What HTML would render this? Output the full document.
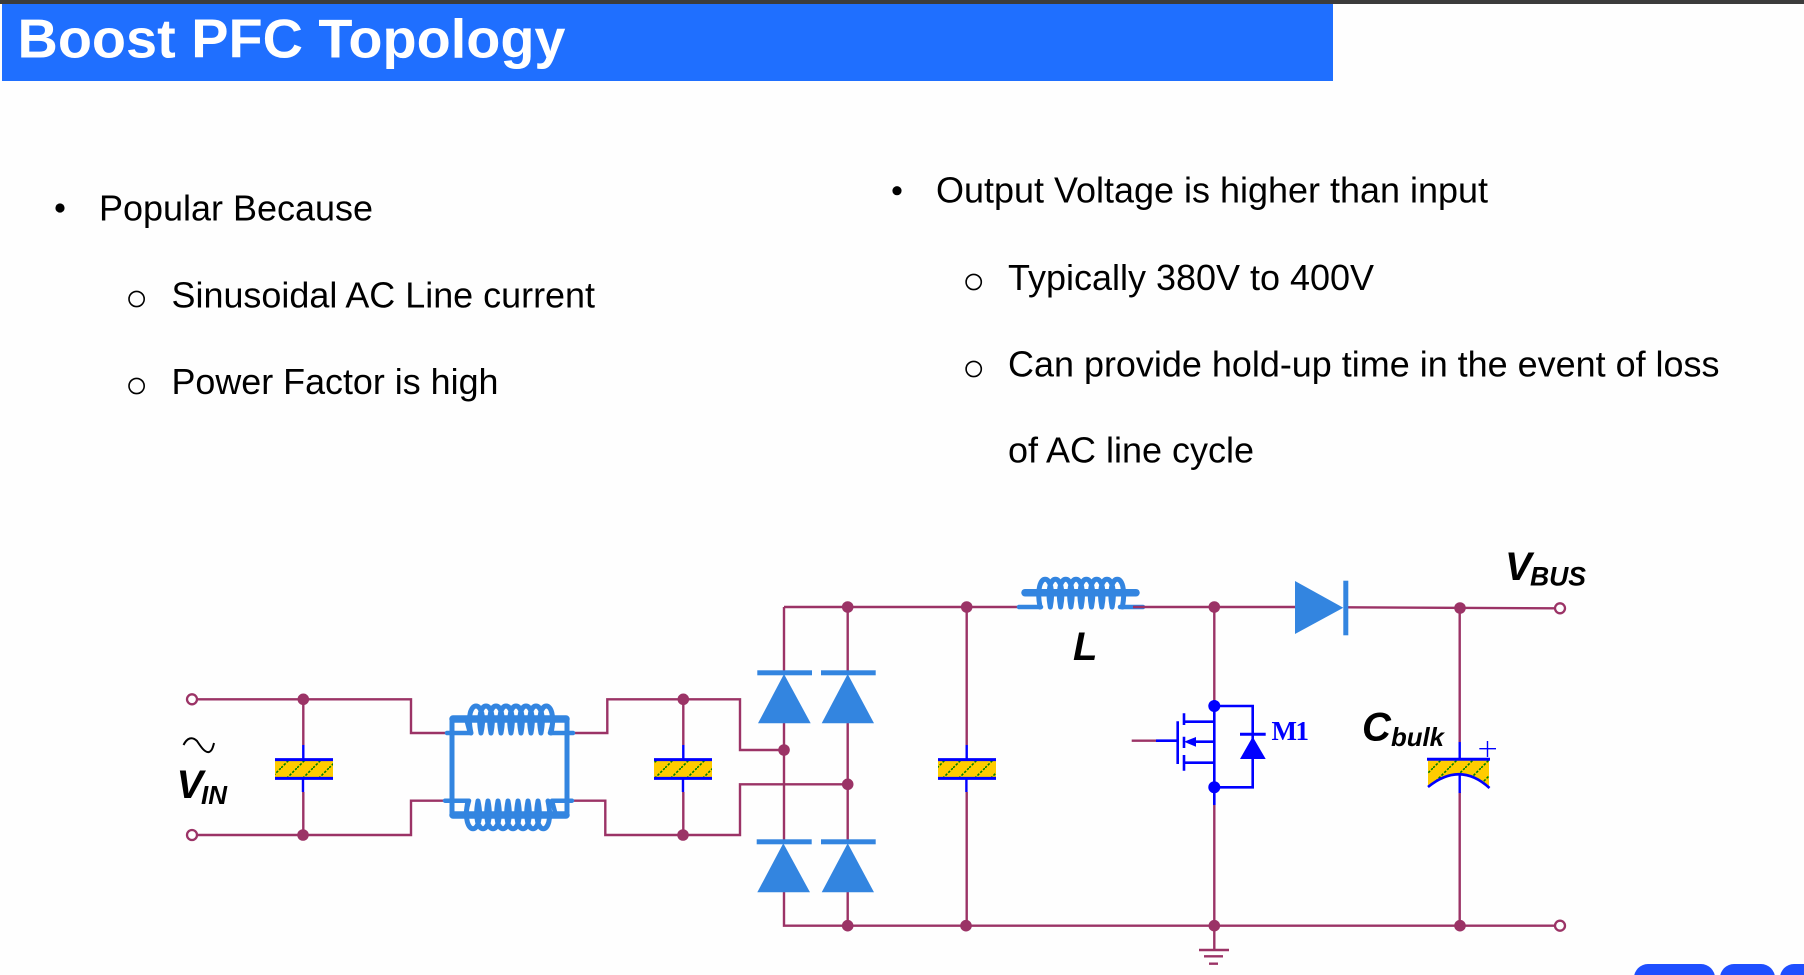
<!DOCTYPE html>
<html>
<head>
<meta charset="utf-8">
<title>Boost PFC Topology</title>
<style>
html,body{margin:0;padding:0;background:#fefefe;width:1804px;height:975px;overflow:hidden}
svg{display:block}
text{font-family:"Liberation Sans",sans-serif}
.b{font-size:36px;fill:#000}
.lab{font-weight:bold;font-style:italic;fill:#000}
.w{fill:none;stroke:#9b3366;stroke-width:2.4}
.bl{fill:none;stroke:#0000ff;stroke-width:2.6}
.d{fill:#3385e0;stroke:none}
.c{fill:none;stroke:#3385e0;stroke-linecap:round;stroke-linejoin:round}
</style>
</head>
<body>
<svg width="1804" height="975" viewBox="0 0 1804 975" xmlns="http://www.w3.org/2000/svg">
<defs>
<pattern id="h" patternUnits="userSpaceOnUse" width="16" height="16" patternTransform="translate(9,0)">
<rect width="16" height="16" fill="#ffcc00"/>
<path d="M0,16L16,0" stroke="#008000" stroke-width="1.6" stroke-dasharray="2.5 1.5"/>
</pattern>
</defs>
<rect width="1804" height="975" fill="#fefefe"/>
<rect x="0" y="0" width="1804" height="4" fill="#3c3c3c"/>
<rect x="2" y="4" width="1331" height="77" fill="#1f6fff"/>
<text x="17.5" y="57.3" font-size="55" font-weight="bold" fill="#fff" textLength="548" lengthAdjust="spacingAndGlyphs">Boost PFC Topology</text>

<circle cx="60" cy="208" r="4.6" fill="#000"/>
<text class="b" x="99" y="220.5" textLength="274" lengthAdjust="spacingAndGlyphs">Popular Because</text>
<circle cx="136.6" cy="299" r="7.6" fill="none" stroke="#000" stroke-width="1.6"/>
<text class="b" x="171.5" y="307.5" textLength="423.5" lengthAdjust="spacingAndGlyphs">Sinusoidal AC Line current</text>
<circle cx="136.6" cy="386" r="7.6" fill="none" stroke="#000" stroke-width="1.6"/>
<text class="b" x="171.5" y="394" textLength="327" lengthAdjust="spacingAndGlyphs">Power Factor is high</text>

<circle cx="897" cy="190.7" r="4.6" fill="#000"/>
<text class="b" x="936" y="202.7" textLength="552" lengthAdjust="spacingAndGlyphs">Output Voltage is higher than input</text>
<circle cx="973.7" cy="282" r="7.6" fill="none" stroke="#000" stroke-width="1.6"/>
<text class="b" x="1008" y="290" textLength="366" lengthAdjust="spacingAndGlyphs">Typically 380V to 400V</text>
<circle cx="973.7" cy="369" r="7.6" fill="none" stroke="#000" stroke-width="1.6"/>
<text class="b" x="1008" y="376.5" textLength="711.5" lengthAdjust="spacingAndGlyphs">Can provide hold-up time in the event of loss</text>
<text class="b" x="1008" y="462.7" textLength="246" lengthAdjust="spacingAndGlyphs">of AC line cycle</text>

<!-- wires -->
<path class="w" d="M197,699.3H411V733H447"/>
<path class="w" d="M197,835H411V800.7H445"/>
<path class="w" d="M303.3,699.3V745M303.3,792V835"/>
<path class="w" d="M572,733H607.3V699.3H740V750H784"/>
<path class="w" d="M570,800.7H605.3V835H740V784.3H847.7"/>
<path class="w" d="M683.3,699.3V745M683.3,792V835"/>
<path class="w" d="M784,892V925.7H1555"/>
<path class="w" d="M784,607V674M784,723V843"/>
<path class="w" d="M847.7,607V674M847.7,723V843M847.7,892V925.7"/>
<path class="w" d="M784,607H1020"/>
<path class="w" d="M966.7,607V745M966.7,792V925.7"/>
<path class="w" d="M1214.3,607V700M1214.3,805V950"/>
<path class="w" d="M1199,950H1229M1204,956.3H1223M1209,963.7H1218"/>
<path class="w" d="M1348,607.3L1555,608.3"/>
<path class="w" d="M1459.7,608V742M1459.7,792V925.7"/>

<!-- choke -->
<g class="c">
<path stroke-width="7.5" d="M453,719H566M453,815H566"/>
<path stroke-width="5" fill="none" d="M452,719V815M567,719V815"/>
<path stroke-width="4.5" fill="none" d="M447,733H470L467,722M573,733H550L553,722M445,800.7H469L466,812M572,800.7H552L555,812"/>
<path stroke-width="5" fill="none" d="M471,733c-8,-36 18,-36 10,0c-7,-36 17,-36 10,0c-7,-36 17,-36 10,0c-7,-36 17,-36 10,0c-7,-36 17,-36 10,0c-7,-36 17,-36 10,0c-7,-36 17,-36 10,0c-7,-36 18,-36 10,0"/>
<path stroke-width="5" fill="none" d="M468,801c-8,37 18,37 10,0c-7,37 17,37 10,0c-7,37 17,37 10,0c-7,37 17,37 10,0c-7,37 17,37 10,0c-7,37 17,37 10,0c-7,37 17,37 10,0c-7,37 18,37 10,0"/>
</g>

<!-- main inductor -->
<g class="c">
<path stroke-width="7.5" d="M1025,592.7H1136"/>
<path stroke-width="4.5" fill="none" d="M1019,607H1041M1120,607H1143"/>
<path stroke-width="5" fill="none" d="M1040,607c-7,-37 17.3,-37 10.3,0c-7,-37 17.3,-37 10.3,0c-7,-37 17.3,-37 10.3,0c-7,-37 17.3,-37 10.3,0c-7,-37 17.3,-37 10.3,0c-7,-37 17.3,-37 10.3,0c-7,-37 17.3,-37 10.3,0c-7,-37 17.3,-37 10.3,0"/>
</g>
<path class="w" d="M1133,607H1214"/>
<path class="w" d="M1214,607H1295"/>

<!-- bridge diodes -->
<path class="d" d="M784,674L810.7,723.3H758Z"/>
<path class="d" d="M847.7,674L874,723.3H821.7Z"/>
<path class="d" d="M783.3,843.3L810,892.3H757.3Z"/>
<path class="d" d="M847.7,843.3L874,892.3H821.7Z"/>
<g class="d">
<rect x="757.3" y="670.3" width="54.7" height="5"/>
<rect x="821" y="670.3" width="54.7" height="5"/>
<rect x="756.7" y="839.3" width="55" height="5"/>
<rect x="821" y="839.3" width="54.7" height="5"/>
</g>

<!-- output diode -->
<path class="d" d="M1295,581L1343.3,607.7L1295,634Z"/>
<rect class="d" x="1343.3" y="580.7" width="5" height="54.6"/>

<!-- capacitors -->
<g>
<rect x="275" y="761" width="58" height="16" fill="url(#h)"/>
<rect x="654" y="761" width="58" height="16" fill="url(#h)"/>
<rect x="938" y="761" width="58" height="16" fill="url(#h)"/>
<path d="M275,759.6H333M275,778.4H333M654,759.6H712M654,778.4H712M938,759.6H996M938,778.4H996" stroke="#0000ff" stroke-width="3" fill="none"/>
<path d="M303.3,745V759M303,779V792M683.3,745V759M683,779V792M966.7,745V759M966.4,779V792" stroke="#0000ff" stroke-width="2.4" fill="none"/>
</g>
<path d="M1428,760H1489V788Q1460,760 1428,787Z" fill="url(#h)"/>
<path d="M1427,759.3H1490" stroke="#0000ff" stroke-width="3" fill="none"/>
<path d="M1428,787Q1460,761 1489.5,788" stroke="#0000ff" stroke-width="2.6" fill="none"/>
<path d="M1459.7,742V759M1459.7,774V793" stroke="#0000ff" stroke-width="2.4" fill="none"/>
<path d="M1479.3,748.7H1496M1487.5,741V757" stroke="#0000ff" stroke-width="1.4" fill="none"/>

<!-- MOSFET -->
<path class="w" d="M1131.7,740.7H1156"/>
<path class="bl" d="M1156,740.7H1177.7M1177.7,721.3V764M1184,713.3V725M1184,736.7V748M1184,755V770.7"/>
<path class="bl" d="M1184,721.7H1214.3V706H1252.7V787.3H1214.3V700M1184,762.7H1214.3M1214.3,741.7H1196M1214.3,787V805"/>
<path d="M1184,741.7L1196,737V746.7Z" fill="#0000ff"/>
<path d="M1240,734.3H1265.7" stroke="#0000ff" stroke-width="3" fill="none"/>
<path d="M1252.7,736.7L1265.7,759H1240Z" fill="#0000ff"/>
<circle cx="1214.3" cy="706" r="6" fill="#0000ff"/>
<circle cx="1214.3" cy="787.3" r="6" fill="#0000ff"/>
<text x="1271.5" y="740" font-size="27" font-weight="bold" fill="#0000ff" style="font-family:'Liberation Serif',serif" textLength="37.5">M1</text>

<!-- junctions -->
<g fill="#9b3366">
<circle cx="303.3" cy="699.3" r="5.8"/>
<circle cx="303" cy="835" r="5.8"/>
<circle cx="683.3" cy="699.3" r="5.8"/>
<circle cx="683" cy="835" r="5.8"/>
<circle cx="784" cy="750" r="5.8"/>
<circle cx="847.7" cy="784.3" r="5.8"/>
<circle cx="847.7" cy="607" r="5.8"/>
<circle cx="966.7" cy="607" r="5.8"/>
<circle cx="1214.3" cy="607" r="5.8"/>
<circle cx="1460" cy="608" r="5.8"/>
<circle cx="847.7" cy="925.7" r="5.8"/>
<circle cx="966" cy="925.7" r="5.8"/>
<circle cx="1214.3" cy="925.7" r="5.8"/>
<circle cx="1460" cy="925.7" r="5.8"/>
</g>
<g fill="#fefefe" stroke="#9b3366" stroke-width="2.3">
<circle cx="192" cy="699.3" r="5"/>
<circle cx="192" cy="835" r="5"/>
<circle cx="1560" cy="608.3" r="5"/>
<circle cx="1560" cy="925.7" r="5"/>
</g>

<!-- labels -->
<path d="M183.5,745C187,738 192,736 197,741C201,747 205,753 209,752C212,751 213,747 214,743" fill="none" stroke="#000" stroke-width="2"/>
<text class="lab" x="176.5" y="798" font-size="40">V</text>
<text class="lab" x="201" y="804" font-size="26">IN</text>
<text class="lab" x="1073" y="660" font-size="40">L</text>
<text class="lab" x="1505" y="580" font-size="40">V</text>
<text class="lab" x="1530" y="585.7" font-size="27" textLength="56" lengthAdjust="spacingAndGlyphs">BUS</text>
<text class="lab" x="1362" y="740.7" font-size="40">C</text>
<text class="lab" x="1391" y="746" font-size="26" textLength="53" lengthAdjust="spacingAndGlyphs">bulk</text>

<!-- bottom right shapes -->
<g fill="#1f4fff">
<rect x="1634" y="964" width="81" height="30" rx="14"/>
<rect x="1720" y="964" width="55" height="30" rx="14"/>
<rect x="1780" y="964" width="60" height="30" rx="14"/>
</g>
</svg>
</body>
</html>
